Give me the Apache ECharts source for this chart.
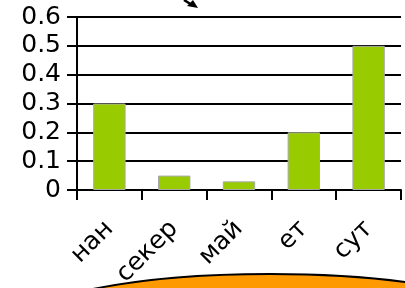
<!DOCTYPE html>
<html>
<head>
<meta charset="utf-8">
<script src="https://cdn.jsdelivr.net/npm/echarts@6/dist/echarts.min.js"></script>
<style>
html,body{margin:0;padding:0;background:#fff;}
#chart{width:405px;height:288px;}
</style>
</head>
<body>
<div id="chart"></div>
<script>
// categories and values
var categories = ['нан', 'секер', 'май', 'ет', 'сут'];
var values = [0.3, 0.05, 0.03, 0.2, 0.5];
var yTicks = [0, 0.1, 0.2, 0.3, 0.4, 0.5, 0.6];

var chart = echarts.init(document.getElementById('chart'));
var option = {
    animation: false,
    grid: {left: 77, right: 4, top: 17, bottom: 98, outerBoundsMode: 'none'},
    xAxis: {
        type: 'category',
        data: categories,
        axisLine: {lineStyle: {color: '#000', width: 2}},
        axisTick: {show: true, length: 10, lineStyle: {color: '#000', width: 2}},
        axisLabel: {
            rotate: 45,
            margin: 35,
            color: '#000',
            fontFamily: 'DejaVu Sans',
            fontSize: 25
        }
    },
    yAxis: {
        type: 'value',
        min: yTicks[0],
        max: yTicks[yTicks.length - 1],
        interval: 0.1,
        axisLine: {show: true, lineStyle: {color: '#000', width: 2}},
        axisTick: {show: true, length: 10, lineStyle: {color: '#000', width: 2}},
        splitLine: {show: true, lineStyle: {color: '#000', width: 2}},
        axisLabel: {
            margin: 16,
            color: '#000',
            fontFamily: 'DejaVu Sans',
            fontSize: 25,
            formatter: function (v) { return String(Math.round(v * 10) / 10); }
        }
    },
    series: [{
        type: 'bar',
        data: values,
        barWidth: '50%',
        itemStyle: {color: '#99cc00', borderColor: '#a8a8a8', borderWidth: 1}
    }],
    graphic: [
        {
            type: 'ellipse',
            shape: {cx: 270, cy: 330, rx: 260, ry: 56},
            style: {fill: '#ff9900', stroke: '#000', lineWidth: 2},
            z: 10
        },
        {
            type: 'line',
            shape: {x1: 184, y1: 0, x2: 192, y2: 5},
            style: {stroke: '#000', lineWidth: 2.5}
        },
        {
            type: 'polygon',
            shape: {points: [[198, 8], [187, 6], [193, 0]]},
            style: {fill: '#000'}
        }
    ]
};
chart.setOption(option);
</script>
</body>
</html>
